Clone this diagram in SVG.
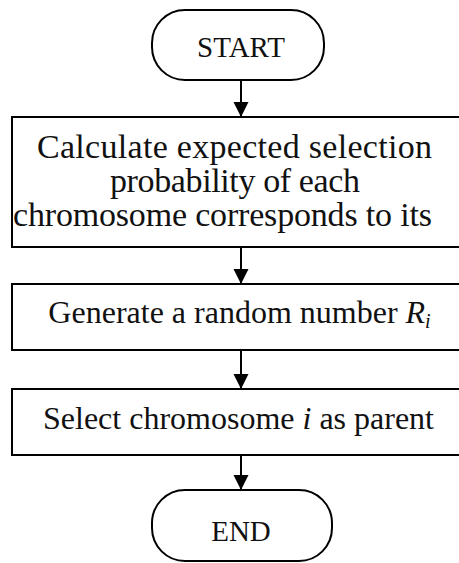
<svg xmlns="http://www.w3.org/2000/svg" width="459" height="563" viewBox="0 0 459 563">
  <defs>
    <marker id="arrow" markerUnits="userSpaceOnUse" markerWidth="16" markerHeight="16" refX="15" refY="7.5" orient="auto">
      <path d="M0,0 L15,7.5 L0,15 Z" fill="#000"/>
    </marker>
  </defs>
  <style>
    .shape { fill: #fff; stroke: #000; stroke-width: 2; }
    .label { font-family: "Liberation Serif", "Times New Roman", serif; font-size: 32px; fill: #111; text-anchor: middle; }
    .big { font-size: 34px; }
    .term { font-size: 29px; }
    .conn { stroke: #000; stroke-width: 2; fill: none; marker-end: url(#arrow); }
  </style>
  <rect width="459" height="563" fill="#fff"/>

  <g id="start">
    <rect class="shape" x="152" y="10" width="172" height="70" rx="33" ry="33"/>
    <text class="label term" x="241" y="57">START</text>
  </g>

  <g id="calc">
    <rect class="shape" x="12" y="117" width="460" height="130"/>
    <text class="label big" x="234.5" y="158" textLength="395">Calculate expected selection</text>
    <text class="label big" x="235" y="192" textLength="250">probability of each</text>
    <text class="label big" x="222.5" y="226" textLength="419">chromosome corresponds to its</text>
  </g>

  <g id="random">
    <rect class="shape" x="12" y="284" width="460" height="66"/>
    <text class="label" x="239.5" y="323">Generate a random number <tspan font-style="italic">R</tspan><tspan font-style="italic" font-size="20" dy="5">i</tspan></text>
  </g>

  <g id="select">
    <rect class="shape" x="12" y="389" width="460" height="66"/>
    <text class="label" x="238.5" y="429">Select chromosome <tspan font-style="italic">i</tspan> as parent</text>
  </g>

  <g id="end">
    <rect class="shape" x="152" y="490" width="180" height="71" rx="33" ry="33"/>
    <text class="label term" x="241" y="541">END</text>
  </g>

  <g id="connectors">
    <line class="conn" x1="241" y1="80" x2="241" y2="117"/>
    <line class="conn" x1="241" y1="247" x2="241" y2="284"/>
    <line class="conn" x1="241" y1="350" x2="241" y2="389"/>
    <line class="conn" x1="241" y1="455" x2="241" y2="490"/>
  </g>
</svg>
